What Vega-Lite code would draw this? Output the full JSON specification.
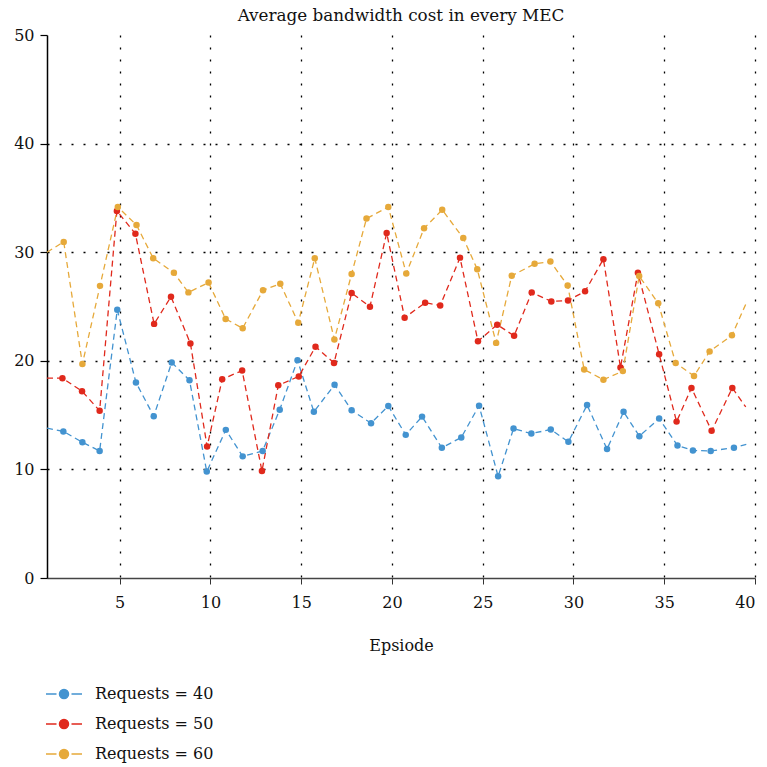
{
  "$schema": "https://vega.github.io/schema/vega-lite/v6.json",
  "width": 708,
  "height": 543,
  "autosize": {"type": "none"},
  "padding": {"left": 47, "top": 35, "right": 12, "bottom": 189},
  "background": "white",
  "title": {"text": "Average bandwidth cost in every MEC", "font": "DejaVu Serif", "fontSize": 16.8, "fontWeight": "normal", "color": "#111111", "anchor": "middle", "offset": 2},
  "config": {"view": {"stroke": null}},
  "data": {"values": [
    {"episode": 1.0, "cost": 13.8, "series": "Requests = 40"},
    {"episode": 1.9, "cost": 13.5, "series": "Requests = 40"},
    {"episode": 2.95, "cost": 12.5, "series": "Requests = 40"},
    {"episode": 3.9, "cost": 11.7, "series": "Requests = 40"},
    {"episode": 4.87, "cost": 24.7, "series": "Requests = 40"},
    {"episode": 5.9, "cost": 18.0, "series": "Requests = 40"},
    {"episode": 6.88, "cost": 14.9, "series": "Requests = 40"},
    {"episode": 7.87, "cost": 19.85, "series": "Requests = 40"},
    {"episode": 8.85, "cost": 18.2, "series": "Requests = 40"},
    {"episode": 9.8, "cost": 9.8, "series": "Requests = 40"},
    {"episode": 10.85, "cost": 13.64, "series": "Requests = 40"},
    {"episode": 11.78, "cost": 11.2, "series": "Requests = 40"},
    {"episode": 12.88, "cost": 11.7, "series": "Requests = 40"},
    {"episode": 13.82, "cost": 15.5, "series": "Requests = 40"},
    {"episode": 14.8, "cost": 20.06, "series": "Requests = 40"},
    {"episode": 15.7, "cost": 15.3, "series": "Requests = 40"},
    {"episode": 16.84, "cost": 17.8, "series": "Requests = 40"},
    {"episode": 17.78, "cost": 15.45, "series": "Requests = 40"},
    {"episode": 18.85, "cost": 14.25, "series": "Requests = 40"},
    {"episode": 19.8, "cost": 15.84, "series": "Requests = 40"},
    {"episode": 20.76, "cost": 13.18, "series": "Requests = 40"},
    {"episode": 21.66, "cost": 14.86, "series": "Requests = 40"},
    {"episode": 22.75, "cost": 11.99, "series": "Requests = 40"},
    {"episode": 23.82, "cost": 12.94, "series": "Requests = 40"},
    {"episode": 24.8, "cost": 15.87, "series": "Requests = 40"},
    {"episode": 25.85, "cost": 9.36, "series": "Requests = 40"},
    {"episode": 26.7, "cost": 13.76, "series": "Requests = 40"},
    {"episode": 27.68, "cost": 13.3, "series": "Requests = 40"},
    {"episode": 28.75, "cost": 13.67, "series": "Requests = 40"},
    {"episode": 29.72, "cost": 12.54, "series": "Requests = 40"},
    {"episode": 30.75, "cost": 15.93, "series": "Requests = 40"},
    {"episode": 31.85, "cost": 11.87, "series": "Requests = 40"},
    {"episode": 32.76, "cost": 15.3, "series": "Requests = 40"},
    {"episode": 33.63, "cost": 13.06, "series": "Requests = 40"},
    {"episode": 34.72, "cost": 14.68, "series": "Requests = 40"},
    {"episode": 35.73, "cost": 12.2, "series": "Requests = 40"},
    {"episode": 36.58, "cost": 11.74, "series": "Requests = 40"},
    {"episode": 37.56, "cost": 11.7, "series": "Requests = 40"},
    {"episode": 38.84, "cost": 12.0, "series": "Requests = 40"},
    {"episode": 39.52, "cost": 12.3, "series": "Requests = 40"},

    {"episode": 1.0, "cost": 18.4, "series": "Requests = 50"},
    {"episode": 1.85, "cost": 18.4, "series": "Requests = 50"},
    {"episode": 2.93, "cost": 17.2, "series": "Requests = 50"},
    {"episode": 3.9, "cost": 15.4, "series": "Requests = 50"},
    {"episode": 4.85, "cost": 33.8, "series": "Requests = 50"},
    {"episode": 5.87, "cost": 31.7, "series": "Requests = 50"},
    {"episode": 6.9, "cost": 23.4, "series": "Requests = 50"},
    {"episode": 7.83, "cost": 25.9, "series": "Requests = 50"},
    {"episode": 8.9, "cost": 21.6, "series": "Requests = 50"},
    {"episode": 9.82, "cost": 12.1, "series": "Requests = 50"},
    {"episode": 10.65, "cost": 18.3, "series": "Requests = 50"},
    {"episode": 11.75, "cost": 19.1, "series": "Requests = 50"},
    {"episode": 12.84, "cost": 9.85, "series": "Requests = 50"},
    {"episode": 13.74, "cost": 17.74, "series": "Requests = 50"},
    {"episode": 14.87, "cost": 18.56, "series": "Requests = 50"},
    {"episode": 15.79, "cost": 21.3, "series": "Requests = 50"},
    {"episode": 16.81, "cost": 19.8, "series": "Requests = 50"},
    {"episode": 17.78, "cost": 26.24, "series": "Requests = 50"},
    {"episode": 18.79, "cost": 24.98, "series": "Requests = 50"},
    {"episode": 19.71, "cost": 31.77, "series": "Requests = 50"},
    {"episode": 20.7, "cost": 23.97, "series": "Requests = 50"},
    {"episode": 21.83, "cost": 25.35, "series": "Requests = 50"},
    {"episode": 22.66, "cost": 25.1, "series": "Requests = 50"},
    {"episode": 23.75, "cost": 29.5, "series": "Requests = 50"},
    {"episode": 24.74, "cost": 21.8, "series": "Requests = 50"},
    {"episode": 25.8, "cost": 23.33, "series": "Requests = 50"},
    {"episode": 26.73, "cost": 22.3, "series": "Requests = 50"},
    {"episode": 27.7, "cost": 26.3, "series": "Requests = 50"},
    {"episode": 28.78, "cost": 25.47, "series": "Requests = 50"},
    {"episode": 29.7, "cost": 25.55, "series": "Requests = 50"},
    {"episode": 30.64, "cost": 26.4, "series": "Requests = 50"},
    {"episode": 31.65, "cost": 29.36, "series": "Requests = 50"},
    {"episode": 32.59, "cost": 19.39, "series": "Requests = 50"},
    {"episode": 33.55, "cost": 28.1, "series": "Requests = 50"},
    {"episode": 34.72, "cost": 20.6, "series": "Requests = 50"},
    {"episode": 35.68, "cost": 14.4, "series": "Requests = 50"},
    {"episode": 36.5, "cost": 17.5, "series": "Requests = 50"},
    {"episode": 37.61, "cost": 13.55, "series": "Requests = 50"},
    {"episode": 38.75, "cost": 17.5, "series": "Requests = 50"},
    {"episode": 39.49, "cost": 15.75, "series": "Requests = 50"},

    {"episode": 1.0, "cost": 30.0, "series": "Requests = 60"},
    {"episode": 1.92, "cost": 30.95, "series": "Requests = 60"},
    {"episode": 2.95, "cost": 19.7, "series": "Requests = 60"},
    {"episode": 3.92, "cost": 26.9, "series": "Requests = 60"},
    {"episode": 4.9, "cost": 34.16, "series": "Requests = 60"},
    {"episode": 5.93, "cost": 32.5, "series": "Requests = 60"},
    {"episode": 6.85, "cost": 29.45, "series": "Requests = 60"},
    {"episode": 7.99, "cost": 28.1, "series": "Requests = 60"},
    {"episode": 8.79, "cost": 26.3, "series": "Requests = 60"},
    {"episode": 9.9, "cost": 27.2, "series": "Requests = 60"},
    {"episode": 10.84, "cost": 23.85, "series": "Requests = 60"},
    {"episode": 11.78, "cost": 23.0, "series": "Requests = 60"},
    {"episode": 12.9, "cost": 26.5, "series": "Requests = 60"},
    {"episode": 13.85, "cost": 27.1, "series": "Requests = 60"},
    {"episode": 14.84, "cost": 23.5, "series": "Requests = 60"},
    {"episode": 15.75, "cost": 29.45, "series": "Requests = 60"},
    {"episode": 16.83, "cost": 21.96, "series": "Requests = 60"},
    {"episode": 17.78, "cost": 28.0, "series": "Requests = 60"},
    {"episode": 18.6, "cost": 33.1, "series": "Requests = 60"},
    {"episode": 19.8, "cost": 34.16, "series": "Requests = 60"},
    {"episode": 20.79, "cost": 28.04, "series": "Requests = 60"},
    {"episode": 21.77, "cost": 32.2, "series": "Requests = 60"},
    {"episode": 22.77, "cost": 33.9, "series": "Requests = 60"},
    {"episode": 23.93, "cost": 31.3, "series": "Requests = 60"},
    {"episode": 24.7, "cost": 28.44, "series": "Requests = 60"},
    {"episode": 25.74, "cost": 21.65, "series": "Requests = 60"},
    {"episode": 26.6, "cost": 27.83, "series": "Requests = 60"},
    {"episode": 27.86, "cost": 28.93, "series": "Requests = 60"},
    {"episode": 28.73, "cost": 29.14, "series": "Requests = 60"},
    {"episode": 29.68, "cost": 26.94, "series": "Requests = 60"},
    {"episode": 30.59, "cost": 19.2, "series": "Requests = 60"},
    {"episode": 31.65, "cost": 18.26, "series": "Requests = 60"},
    {"episode": 32.72, "cost": 19.05, "series": "Requests = 60"},
    {"episode": 33.62, "cost": 27.8, "series": "Requests = 60"},
    {"episode": 34.67, "cost": 25.3, "series": "Requests = 60"},
    {"episode": 35.63, "cost": 19.8, "series": "Requests = 60"},
    {"episode": 36.64, "cost": 18.6, "series": "Requests = 60"},
    {"episode": 37.5, "cost": 20.86, "series": "Requests = 60"},
    {"episode": 38.73, "cost": 22.35, "series": "Requests = 60"},
    {"episode": 39.54, "cost": 25.4, "series": "Requests = 60"}
  ]},
  "encoding": {
    "x": {
      "field": "episode", "type": "quantitative",
      "scale": {"domain": [1, 40], "nice": false, "zero": false},
      "axis": {
        "values": [5, 10, 15, 20, 25, 30, 35, 40],
        "title": "Epsiode",
        "titleFont": "DejaVu Serif", "titleFontSize": 16, "titleFontWeight": "normal", "titleColor": "#111111", "titlePadding": 27,
        "labelFont": "DejaVu Serif", "labelFontSize": 16, "labelColor": "#111111", "labelPadding": 10,
        "domainColor": "#444444", "domainWidth": 1.5, "tickColor": "#333333", "tickSize": 6, "tickWidth": 1,
        "grid": true, "gridColor": "#000000", "gridDash": [2, 10], "gridWidth": 1.3
      }
    },
    "y": {
      "field": "cost", "type": "quantitative",
      "scale": {"domain": [0, 50], "nice": false},
      "axis": {
        "values": [0, 10, 20, 30, 40, 50],
        "title": null,
        "labelFont": "DejaVu Serif", "labelFontSize": 16, "labelColor": "#111111", "labelPadding": 6,
        "domainColor": "#000000", "domainWidth": 1.5, "tickColor": "#000000", "tickSize": 7, "tickWidth": 1.2,
        "grid": true, "gridColor": "#000000", "gridDash": [2, 10], "gridWidth": 1.3,
        "gridOpacity": {"condition": {"test": "datum.value == 50 || datum.value == 0", "value": 0}, "value": 1}
      }
    },
    "color": {
      "field": "series", "type": "nominal",
      "scale": {"domain": ["Requests = 40", "Requests = 50", "Requests = 60"], "range": ["#4393d0", "#e0291c", "#e6a93a"]},
      "legend": {
        "orient": "none", "legendX": 9, "legendY": 651, "title": null,
        "symbolType": "M-3.6,0H-1.5M1.5,0H3.6M-0.9,0A0.9,0.9 0 1,1 0.9,0A0.9,0.9 0 1,1 -0.9,0Z",
        "symbolSize": 100, "symbolStrokeWidth": 1.5,
        "labelFont": "DejaVu Serif", "labelFontSize": 16, "labelColor": "#111111", "labelOffset": 23,
        "rowPadding": 14,
        "encode": {"symbols": {"update": {"stroke": {"scale": "color", "field": "value"}, "fill": {"scale": "color", "field": "value"}, "opacity": {"value": 1}, "strokeDash": {"value": []}}}}
      }
    }
  },
  "layer": [
    {"mark": {"type": "line", "strokeDash": [6, 4], "strokeWidth": 1.3, "clip": true}},
    {"transform": [{"filter": "datum.episode > 1.2 && datum.episode < 39.4"}],
     "mark": {"type": "circle", "size": 42, "opacity": 1, "clip": true}}
  ]
}
